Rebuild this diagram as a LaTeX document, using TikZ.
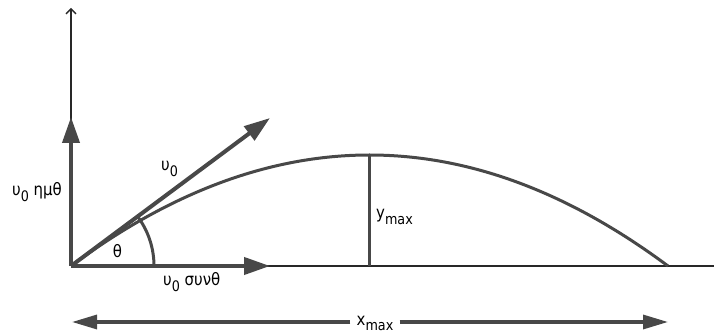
\documentclass[tikz,border=0pt]{standalone}
\usepackage{fontspec}
\setmainfont[FakeStretch=0.88]{DejaVu Sans}
\usetikzlibrary{arrows.meta}
\definecolor{dk}{RGB}{72,72,72}
\definecolor{ax}{RGB}{40,40,40}
\newcommand\sbs[1]{\raisebox{-0.33em}{\fontsize{14.5}{16}\selectfont #1}}
\begin{document}
\begin{tikzpicture}[x=1pt,y=-1pt,
  axis/.style={draw=ax,line width=1.4pt},
  thickarrow/.style={draw=dk,line width=4pt,-{Triangle[length=26pt,width=17pt]}},
  rangearrow/.style={draw=dk,line width=3.2pt,-{Triangle[length=25pt,width=14pt]}},
  curve/.style={draw=dk,line width=3pt},
  lbl/.style={font=\fontsize{17}{19}\selectfont,text=black,inner sep=0pt}]
\useasboundingbox (0,0) rectangle (714,336);
\coordinate (O) at (71,266);
\coordinate (Ytop) at (71,8);
\coordinate (Xend) at (714,266);
\coordinate (E) at (668,266);
\coordinate (P) at (369.5,155);
\coordinate (B) at (369.5,266);
\coordinate (V) at (270,118);
\coordinate (VY) at (71,117);
\coordinate (VX) at (270,266);
\coordinate (L) at (72,322);
\coordinate (R) at (668,322);
% axes
\draw[axis,-{Straight Barb[length=5pt,width=10pt]}] (O) -- (Ytop);
\draw[axis] (O) -- (Xend);
% trajectory
\draw[curve] (O) .. controls (270,118) and (469,118) .. (E);
\draw[draw=dk,line width=3pt] (P) -- (B);
% angle arc
\draw[draw=dk,line width=3pt] (154,266) arc[start angle=0,end angle=-36.64,radius=83];
% velocity arrows
\draw[thickarrow] (O) -- (VY);
\draw[thickarrow] (O) -- (VX);
\draw[thickarrow] (O) -- (V);
% range arrow
\node[lbl,fill=white,inner xsep=6pt,inner ysep=1pt,anchor=base] (xm) at (375,325) {x\sbs{max}};
\draw[rangearrow] (xm.west |- L) -- (L);
\draw[rangearrow] (xm.east |- R) -- (R);
% labels
\node[lbl,anchor=base west] (vy) at (12,196) {υ\sbs{0} ημθ};
\node[lbl,anchor=base west] (v0) at (161,171) {υ\sbs{0}};
\node[lbl,anchor=base] (th) at (117.5,258) {θ};
\node[lbl,anchor=base west] (vx) at (163,286) {υ\sbs{0} συνθ};
\node[lbl,anchor=base west] (ym) at (376,219) {y\sbs{max}};
\end{tikzpicture}
\end{document}
